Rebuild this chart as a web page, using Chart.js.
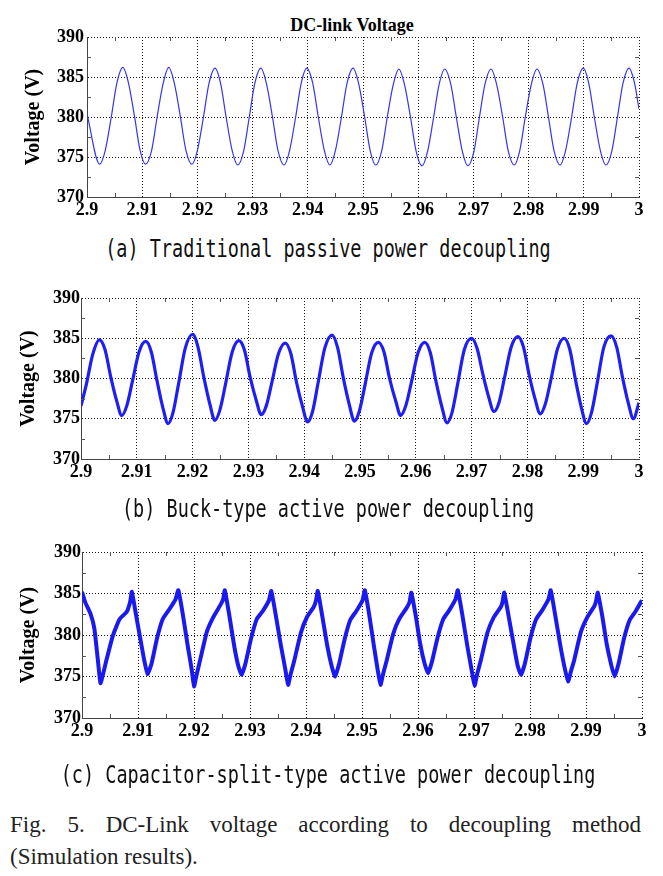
<!DOCTYPE html>
<html>
<head>
<meta charset="utf-8">
<script src="https://cdn.jsdelivr.net/npm/chart.js@4.4.1/dist/chart.umd.min.js"></script>
<style>
body { margin: 0; width: 663px; height: 876px; background: #fff; position: relative; overflow: hidden; }
canvas { position: absolute; left: 0; }
.title { position: absolute; left: 252px; top: 15px; width: 200px; text-align: center; font: bold 18px "Liberation Serif"; line-height: 20px; color: #000; }
.cap { position: absolute; left: 0; width: 656px; text-align: center; font-family: "DejaVu Sans Mono"; font-size: 18.5px; line-height: 22px; white-space: pre; transform: scaleY(1.3); color: #111; }
.fig { position: absolute; left: 10px; width: 631px; font-family: "Liberation Serif"; font-size: 23px; line-height: 30px; color: #222; }
</style>
</head>
<body>
<div class="title">DC-link Voltage</div>
<canvas id="c1" width="663" height="230" style="top:0px"></canvas>
<div class="cap" style="top:238px">(a) Traditional passive power decoupling</div>
<canvas id="c2" width="663" height="240" style="top:260px"></canvas>
<div class="cap" style="top:498px">(b) Buck-type active power decoupling</div>
<canvas id="c3" width="663" height="240" style="top:520px"></canvas>
<div class="cap" style="top:764px">(c) Capacitor-split-type active power decoupling</div>
<div class="fig" style="top:810px; text-align:justify; text-align-last:justify;">Fig. 5. DC-Link voltage according to decoupling method</div>
<div class="fig" style="top:842px">(Simulation results).</div>
<script>
const xTicks = [2.9, 2.91, 2.92, 2.93, 2.94, 2.95, 2.96, 2.97, 2.98, 2.99, 3.0];
const xTickLabels = ['2.9', '2.91', '2.92', '2.93', '2.94', '2.95', '2.96', '2.97', '2.98', '2.99', '3'];
const yTicks = [370, 375, 380, 385, 390];
const xMinor = [2.905, 2.915, 2.925, 2.935, 2.945, 2.955, 2.965, 2.975, 2.985, 2.995];
const yMinor = [372.5, 377.5, 382.5, 387.5];

// (a) traditional passive decoupling
const timeA = [
    2.9000,
    2.9023, 2.9033, 2.9044, 2.9054, 2.9065, 2.9075, 2.9086, 2.9096,
    2.9106, 2.9117, 2.9127, 2.9138, 2.9148, 2.9158, 2.9169, 2.9179,
    2.9190, 2.9200, 2.9211, 2.9221, 2.9232, 2.9242, 2.9252, 2.9263,
    2.9273, 2.9284, 2.9294, 2.9304, 2.9315, 2.9325, 2.9336, 2.9346,
    2.9357, 2.9367, 2.9378, 2.9388, 2.9398, 2.9409, 2.9419, 2.9430,
    2.9440, 2.9450, 2.9461, 2.9471, 2.9482, 2.9492, 2.9503, 2.9513,
    2.9523, 2.9534, 2.9544, 2.9555, 2.9565, 2.9575, 2.9586, 2.9596,
    2.9607, 2.9617, 2.9628, 2.9638, 2.9648, 2.9659, 2.9669, 2.9680,
    2.9690, 2.9701, 2.9711, 2.9721, 2.9732, 2.9742, 2.9753, 2.9763,
    2.9774, 2.9784, 2.9794, 2.9805, 2.9815, 2.9826, 2.9836, 2.9846,
    2.9857, 2.9867, 2.9878, 2.9888, 2.9899, 2.9909, 2.9919, 2.9930,
    2.9940, 2.9951, 2.9961, 2.9971, 2.9982, 2.9992, 3.0000
];
const voltA = [
    380.4,
    374.1, 375.8, 380.0, 384.2, 386.2, 384.3, 380.1, 375.9,
    374.1, 375.8, 380.0, 384.2, 386.2, 384.3, 380.1, 375.9,
    374.1, 375.8, 380.0, 384.2, 386.1, 384.2, 380.0, 375.8,
    374.0, 375.8, 380.0, 384.2, 386.1, 384.2, 380.0, 375.8,
    374.0, 375.8, 380.0, 384.2, 386.1, 384.2, 380.0, 375.8,
    374.0, 375.8, 380.0, 384.2, 386.1, 384.2, 380.0, 375.8,
    374.0, 375.8, 380.0, 384.1, 386.0, 384.1, 380.0, 375.8,
    373.9, 375.7, 380.0, 384.1, 386.0, 384.1, 380.0, 375.7,
    373.9, 375.7, 380.0, 384.1, 386.0, 384.1, 380.0, 375.8,
    374.0, 375.8, 380.0, 384.1, 386.0, 384.1, 380.0, 375.8,
    374.0, 375.8, 380.0, 384.2, 386.1, 384.2, 380.0, 375.8,
    374.0, 375.8, 380.0, 384.2, 386.1, 384.2, 381.0
];

// (b) buck-type active decoupling
const timeB = [
    2.9000, 2.9010, 2.9021,
    2.9033, 2.9043, 2.9053, 2.9064, 2.9073, 2.9082, 2.9092, 2.9104,
    2.9116, 2.9126, 2.9136, 2.9147, 2.9156, 2.9165, 2.9175, 2.9187,
    2.9200, 2.9210, 2.9220, 2.9231, 2.9240, 2.9249, 2.9259, 2.9271,
    2.9283, 2.9293, 2.9303, 2.9314, 2.9323, 2.9332, 2.9342, 2.9354,
    2.9366, 2.9376, 2.9386, 2.9397, 2.9406, 2.9415, 2.9425, 2.9437,
    2.9450, 2.9460, 2.9470, 2.9481, 2.9490, 2.9499, 2.9509, 2.9521,
    2.9533, 2.9543, 2.9553, 2.9564, 2.9573, 2.9582, 2.9592, 2.9604,
    2.9616, 2.9626, 2.9636, 2.9647, 2.9656, 2.9665, 2.9675, 2.9687,
    2.9700, 2.9710, 2.9720, 2.9731, 2.9740, 2.9749, 2.9759, 2.9771,
    2.9783, 2.9793, 2.9803, 2.9814, 2.9823, 2.9832, 2.9842, 2.9854,
    2.9866, 2.9876, 2.9886, 2.9897, 2.9906, 2.9915, 2.9925, 2.9937,
    2.9950, 2.9960, 2.9970, 2.9981, 2.9990, 3.0000
];
const voltB = [
    376.6, 379.4, 383.0,
    384.8, 383.6, 380.3, 377.2, 375.4, 376.6, 379.6, 383.3,
    384.6, 383.3, 379.8, 376.3, 374.4, 375.8, 379.4, 383.8,
    385.5, 383.8, 380.2, 376.8, 374.8, 376.1, 379.3, 383.3,
    384.7, 383.5, 380.2, 377.3, 375.5, 376.6, 379.5, 383.1,
    384.4, 383.1, 379.6, 376.5, 374.6, 375.9, 379.5, 383.8,
    385.4, 383.8, 380.1, 376.7, 374.7, 376.0, 379.2, 383.2,
    384.5, 383.3, 380.0, 377.2, 375.4, 376.6, 379.5, 383.2,
    384.5, 383.2, 379.7, 376.4, 374.5, 375.8, 379.3, 383.6,
    385.0, 383.7, 380.6, 377.6, 375.9, 377.0, 380.1, 383.9,
    385.2, 383.9, 380.5, 377.4, 375.6, 376.8, 379.8, 383.7,
    385.0, 383.6, 379.9, 376.3, 374.4, 375.8, 379.4, 383.9,
    385.3, 383.9, 380.3, 376.9, 375.0, 377.0
];

// (c) capacitor-split-type active decoupling
const timeC = [
    2.9000, 2.9006, 2.9015, 2.9022, 2.9028,
    2.9033, 2.9038, 2.9043, 2.9055, 2.9067, 2.9080, 2.9086, 2.9089,
    2.9096, 2.9104, 2.9111, 2.9117, 2.9124, 2.9134, 2.9144, 2.9156, 2.9167, 2.9172,
    2.9180, 2.9189, 2.9196, 2.9200, 2.9205, 2.9211, 2.9223, 2.9234, 2.9247, 2.9252, 2.9255,
    2.9263, 2.9272, 2.9279, 2.9285, 2.9292, 2.9302, 2.9312, 2.9323, 2.9334, 2.9338,
    2.9346, 2.9355, 2.9363, 2.9368, 2.9373, 2.9379, 2.9391, 2.9402, 2.9414, 2.9418, 2.9421,
    2.9429, 2.9438, 2.9446, 2.9452, 2.9459, 2.9469, 2.9479, 2.9490, 2.9501, 2.9505,
    2.9513, 2.9521, 2.9528, 2.9533, 2.9538, 2.9544, 2.9556, 2.9567, 2.9580, 2.9585, 2.9588,
    2.9596, 2.9604, 2.9612, 2.9618, 2.9625, 2.9635, 2.9645, 2.9656, 2.9667, 2.9671,
    2.9679, 2.9688, 2.9696, 2.9701, 2.9706, 2.9712, 2.9724, 2.9735, 2.9748, 2.9751, 2.9754,
    2.9762, 2.9771, 2.9778, 2.9784, 2.9791, 2.9801, 2.9811, 2.9822, 2.9833, 2.9837,
    2.9845, 2.9854, 2.9862, 2.9868, 2.9873, 2.9879, 2.9891, 2.9902, 2.9915, 2.9918, 2.9921,
    2.9929, 2.9937, 2.9945, 2.9951, 2.9958, 2.9968, 2.9978, 2.9989, 3.0000
];
const voltC = [
    385.2, 383.9, 382.6, 380.8, 377.2,
    374.2, 375.4, 376.8, 379.9, 381.9, 382.8, 384.0, 385.2,
    382.6, 379.6, 377.0, 375.3, 376.5, 379.6, 381.9, 383.1, 384.3, 385.4,
    382.5, 378.6, 375.8, 373.8, 375.3, 377.0, 380.4, 382.1, 383.6, 384.3, 385.4,
    382.4, 378.6, 376.3, 375.2, 376.6, 379.6, 381.9, 382.9, 384.2, 385.3,
    382.4, 378.8, 375.9, 374.0, 375.4, 376.9, 380.3, 382.2, 383.4, 384.2, 385.3,
    382.3, 378.7, 376.2, 375.0, 376.5, 379.5, 381.8, 382.9, 384.2, 385.4,
    382.4, 378.8, 375.8, 374.0, 375.4, 376.9, 380.2, 382.0, 383.3, 384.0, 385.1,
    382.3, 378.9, 376.5, 375.4, 376.8, 379.7, 381.9, 383.0, 384.3, 385.4,
    382.5, 378.7, 375.7, 373.9, 375.4, 376.9, 380.3, 382.1, 383.4, 384.0, 385.1,
    382.2, 378.8, 376.3, 375.2, 376.6, 379.7, 381.9, 383.0, 384.3, 385.4,
    382.4, 378.8, 376.0, 374.4, 375.6, 377.0, 380.4, 382.1, 383.5, 384.1, 385.1,
    382.3, 378.9, 376.4, 375.0, 376.5, 379.6, 381.8, 382.9, 384.2
];

const serif = '"Liberation Serif", "Times New Roman", serif';

// small inward ticks between the major ones, like the matlab axes box
const minorTicks = {
    id: 'minorTicks',
    afterDraw: (chart) => {
        const { ctx, chartArea: a, scales: { x, y } } = chart;
        ctx.save();
        ctx.strokeStyle = '#555';
        ctx.lineWidth = 1;
        ctx.beginPath();
        xMinor.forEach(v => {
            const px = Math.round(x.getPixelForValue(v)) + 0.5;
            ctx.moveTo(px, a.bottom); ctx.lineTo(px, a.bottom - 4);
            ctx.moveTo(px, a.top); ctx.lineTo(px, a.top + 4);
        });
        yMinor.forEach(v => {
            const py = Math.round(y.getPixelForValue(v)) + 0.5;
            ctx.moveTo(a.left, py); ctx.lineTo(a.left + 4, py);
            ctx.moveTo(a.right, py); ctx.lineTo(a.right - 4, py);
        });
        ctx.stroke();
        ctx.restore();
    }
};

function makeChart(id, times, volts, cfg) {
    const points = times.map((t, i) => ({ x: t, y: volts[i] }));
    return new Chart(document.getElementById(id), {
        type: 'line',
        data: {
            datasets: [{
                data: points,
                borderColor: cfg.color,
                borderWidth: cfg.lineWidth,
                pointRadius: 0,
                cubicInterpolationMode: cfg.monotone ? 'monotone' : 'default',
                tension: cfg.tension
            }]
        },
        options: {
            responsive: false,
            animation: false,
            events: [],
            layout: { padding: { top: cfg.padTop, right: cfg.padRight, left: 0, bottom: 0 } },
            plugins: { legend: { display: false }, tooltip: { enabled: false } },
            scales: {
                x: {
                    type: 'linear',
                    min: 2.9,
                    max: 3.0,
                    afterBuildTicks: (s) => { s.ticks = xTicks.map(v => ({ value: v })); },
                    afterFit: (s) => { s.height = cfg.xHeight; },
                    ticks: {
                        callback: (v, i) => xTickLabels[i],
                        font: { family: serif, size: 18, weight: 'bold' },
                        color: '#000',
                        padding: 3,
                        maxRotation: 0,
                        autoSkip: false
                    },
                    grid: { color: 'rgba(0,0,0,0.9)', drawTicks: false },
                    border: { color: '#444', dash: [1, 2] }
                },
                y: {
                    min: 370,
                    max: 390,
                    afterBuildTicks: (s) => { s.ticks = yTicks.map(v => ({ value: v })); },
                    afterFit: (s) => { s.width = cfg.yWidth; },
                    ticks: {
                        font: { family: serif, size: 18, weight: 'bold' },
                        color: '#000',
                        padding: cfg.yPad
                    },
                    grid: { color: 'rgba(0,0,0,0.9)', drawTicks: false },
                    border: { color: '#444', dash: [1, 2] },
                    title: {
                        display: true,
                        text: 'Voltage (V)',
                        font: { family: serif, size: 20, weight: 'bold' },
                        color: '#000',
                        padding: { top: cfg.titlePad, bottom: 0 }
                    }
                }
            }
        },
        plugins: [minorTicks]
    });
}

makeChart('c1', timeA, voltA, {
    color: '#3535f0', lineWidth: 1.2, monotone: true, tension: 0,
    padTop: 37, padRight: 24, xHeight: 33, yWidth: 87, yPad: 3, titlePad: 22
});
makeChart('c2', timeB, voltB, {
    color: '#1e1ef5', lineWidth: 3.2, monotone: true, tension: 0,
    padTop: 38, padRight: 24, xHeight: 41, yWidth: 81, yPad: 1, titlePad: 17
});
makeChart('c3', timeC, voltC, {
    color: '#1a1af0', lineWidth: 4, monotone: false, tension: 0.15,
    padTop: 32, padRight: 21, xHeight: 42, yWidth: 82, yPad: 1, titlePad: 17
});
</script>
</body>
</html>
